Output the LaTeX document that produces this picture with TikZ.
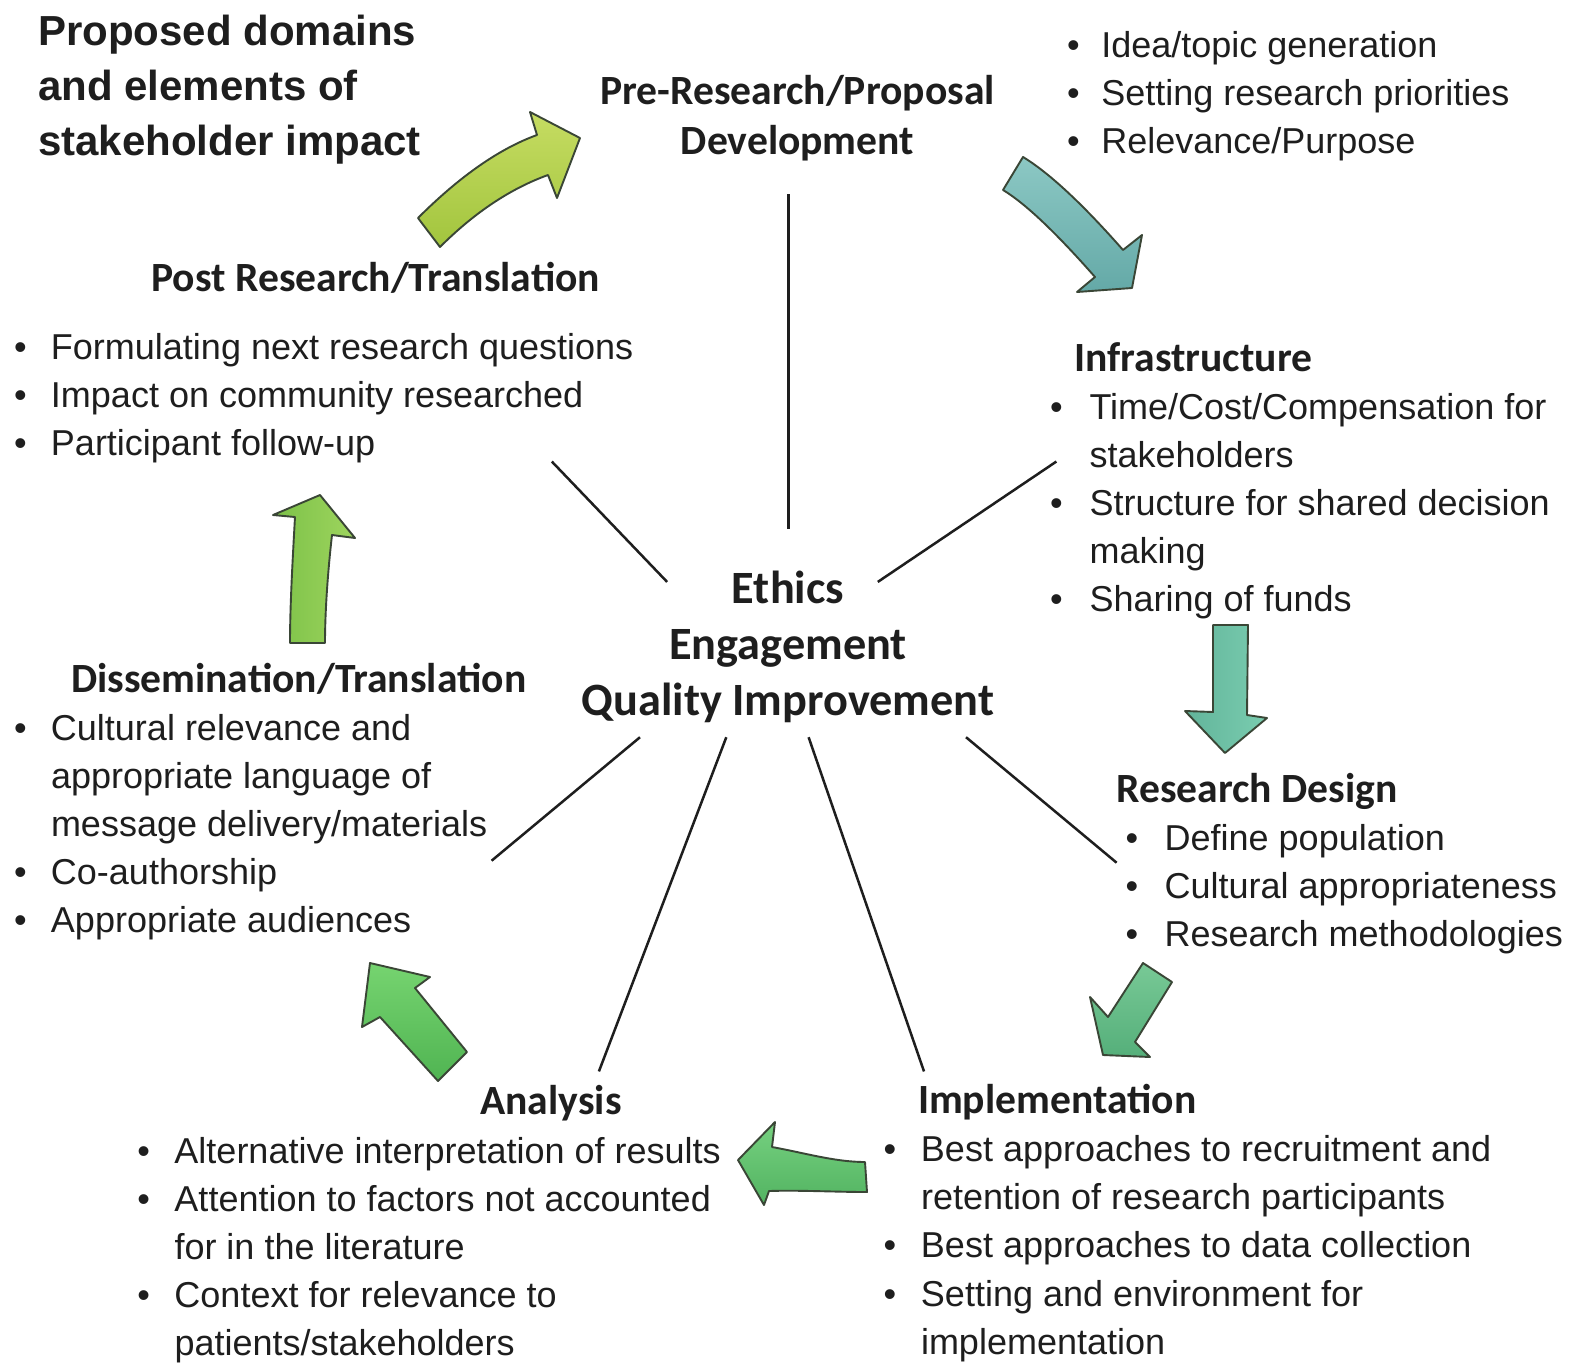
\documentclass[tikz,border=0pt]{standalone}
\usepackage{fontspec}
\setmainfont{Liberation Sans}
\newfontfamily\calfont{Carlito}
\newcommand\bodysz{\fontsize{36}{48.1}\selectfont}
\newcommand\headsz{\calfont\bfseries\fontsize{41.6}{50}\selectfont}
\newcommand\centsz{\calfont\bfseries\fontsize{46.3}{56.2}\selectfont}
\newcommand\titlesz{\bfseries\fontsize{42}{55.3}\selectfont}
\definecolor{txt}{HTML}{1E1E1E}
\definecolor{edge}{HTML}{3A4636}
\definecolor{aAt}{HTML}{C6DC62}\definecolor{aAb}{HTML}{A2C53E}
\definecolor{aBt}{HTML}{8CC8C4}\definecolor{aBb}{HTML}{64A9A7}
\definecolor{aCl}{HTML}{62B49A}\definecolor{aCr}{HTML}{7ACDB0}
\definecolor{aDt}{HTML}{78C996}\definecolor{aDb}{HTML}{55AF7A}
\definecolor{aEt}{HTML}{76D180}\definecolor{aEb}{HTML}{52B361}
\definecolor{aFt}{HTML}{76D470}\definecolor{aFb}{HTML}{50B452}
\definecolor{aGl}{HTML}{7CC148}\definecolor{aGr}{HTML}{9ED55E}
\tikzset{
  txtnode/.style={inner sep=0pt, outer sep=0pt, text=txt},
  conn/.style={line width=2.5pt, draw=txt},
  blockarrow/.style={draw=edge, line width=1.9pt, line join=round}
}
\begin{document}
\begin{tikzpicture}[x=1pt,y=-1pt]
\useasboundingbox (0,0) rectangle (1573,1363);
\fill[white] (0,0) rectangle (1573,1363);

% ---------- block arrows ----------
% A1 post -> pre
\path[blockarrow, top color=aAt, bottom color=aAb]
  (418,218) .. controls (459.7,176.3) and (499.4,148.6) .. (537,135)
  -- (530,112) -- (580,138) -- (557,198) -- (548,175)
  .. controls (510.4,188.6) and (474.4,212.6) .. (440,247) -- cycle;
% A2 pre -> infrastructure
\path[blockarrow, top color=aBt, bottom color=aBb]
  (1023,157) .. controls (1048.9,172.7) and (1082.3,203.7) .. (1123,250)
  -- (1142,235) -- (1132,288) -- (1077,292) -- (1095,277)
  .. controls (1055.7,232.3) and (1025.1,203.3) .. (1003,190) -- cycle;
% A3 infrastructure -> research design
\path[blockarrow, left color=aCl, right color=aCr]
  (1213,625) -- (1248,625) -- (1247,715) -- (1267,718) -- (1225,753)
  -- (1185,711) -- (1213,712) -- cycle;
% A4 research design -> implementation
\path[blockarrow, top color=aDt, bottom color=aDb]
  (1143,963) -- (1172,982) -- (1135,1042) -- (1150,1057) -- (1103,1055)
  -- (1090,997) -- (1108,1017) -- cycle;
% A5 implementation -> analysis
\path[blockarrow, top color=aEt, bottom color=aEb]
  (738,1160) -- (775,1122) -- (772,1147)
  .. controls (805,1153) and (835,1162) .. (865,1162) -- (867,1192)
  .. controls (835,1192) and (800,1190) .. (769,1191) -- (764,1205) -- cycle;
% A6 analysis -> dissemination
\path[blockarrow, top color=aFt, bottom color=aFb]
  (370,963) -- (430,977) -- (415,988) -- (467,1052) -- (438,1081)
  -- (380,1017) -- (362,1027) -- cycle;
% A7 dissemination -> post research
\path[blockarrow, left color=aGl, right color=aGr]
  (320,495) -- (355,538) -- (332,535)
  .. controls (328,570) and (325,610) .. (325,643) -- (290,643)
  .. controls (290,610) and (292,570) .. (295,517) -- (273,515) -- cycle;

% ---------- title ----------
\node[txtnode, anchor=base west] (title) at (38,45) {\titlesz
  \begin{tabular}[t]{@{}l@{}}Proposed domains\\ and elements of\\ stakeholder impact\end{tabular}};

% ---------- centre ----------
\node[txtnode, anchor=base] (centre) at (788,603) {\centsz
  \begin{tabular}[t]{@{}c@{}}Ethics\\ Engagement\\ Quality Improvement\end{tabular}};

% ---------- pre-research ----------
\node[txtnode, anchor=base] (pre) at (797.5,104.3) {\headsz
  \begin{tabular}[t]{@{}c@{}}Pre-Research/Proposal\\ Development\end{tabular}};
\node[txtnode, anchor=base west] (prelist) at (1067,57.5) {\bodysz
  \begin{tabular}[t]{@{}p{34.3pt}@{}l@{}}
  •& Idea/topic generation\\
  •& Setting research priorities\\
  •& Relevance/Purpose
  \end{tabular}};

% ---------- infrastructure ----------
\node[txtnode, anchor=base west] (infra) at (1074.5,371) {\headsz Infrastructure};
\node[txtnode, anchor=base west] (infralist) at (1050,419.3) {\bodysz
  \begin{tabular}[t]{@{}p{39.5pt}@{}l@{}}
  •& Time/Cost/Compensation for\\
   & stakeholders\\
  •& Structure for shared decision\\
   & making\\
  •& Sharing of funds
  \end{tabular}};

% ---------- research design ----------
\node[txtnode, anchor=base west] (rd) at (1116.5,802.4) {\headsz Research Design};
\node[txtnode, anchor=base west] (rdlist) at (1125.5,850.7) {\bodysz
  \begin{tabular}[t]{@{}p{39.2pt}@{}l@{}}
  •& Define population\\
  •& Cultural appropriateness\\
  •& Research methodologies
  \end{tabular}};

% ---------- implementation ----------
\node[txtnode, anchor=base west] (impl) at (918,1113.5) {\headsz Implementation};
\node[txtnode, anchor=base west] (impllist) at (883.6,1161.7) {\bodysz
  \begin{tabular}[t]{@{}p{37.4pt}@{}l@{}}
  •& Best approaches to recruitment and\\
   & retention of research participants\\
  •& Best approaches to data collection\\
  •& Setting and environment for\\
   & implementation
  \end{tabular}};

% ---------- analysis ----------
\node[txtnode, anchor=base west] (ana) at (480.4,1114.4) {\headsz Analysis};
\node[txtnode, anchor=base west] (analist) at (137.4,1163.5) {\bodysz
  \begin{tabular}[t]{@{}p{37.1pt}@{}l@{}}
  •& Alternative interpretation of results\\
  •& Attention to factors not accounted\\
   & for in the literature\\
  •& Context for relevance to\\
   & patients/stakeholders
  \end{tabular}};

% ---------- dissemination ----------
\node[txtnode, anchor=base west] (diss) at (71,692) {\headsz Dissemination/Translation};
\node[txtnode, anchor=base west] (disslist) at (14,740.2) {\bodysz
  \begin{tabular}[t]{@{}p{37pt}@{}l@{}}
  •& Cultural relevance and\\
   & appropriate language of\\
   & message delivery/materials\\
  •& Co-authorship\\
  •& Appropriate audiences
  \end{tabular}};

% ---------- post research ----------
\node[txtnode, anchor=base west] (post) at (151.5,291) {\headsz Post Research/Translation};
\node[txtnode, anchor=base west] (postlist) at (14,359) {\bodysz
  \begin{tabular}[t]{@{}p{37pt}@{}l@{}}
  •& Formulating next research questions\\
  •& Impact on community researched\\
  •& Participant follow-up
  \end{tabular}};

% ---------- connectors ----------
\coordinate (c1a) at (788.5,528.6);  \coordinate (c1b) at (788.5,193.6);
\coordinate (c2a) at (877.8,581.9);  \coordinate (c2b) at (1056.4,461.5);
\coordinate (c3a) at (966,737.2);    \coordinate (c3b) at (1116.6,862.7);
\coordinate (c4a) at (808.6,737.2);  \coordinate (c4b) at (924,1071.4);
\coordinate (c5a) at (726.3,737.2);  \coordinate (c5b) at (598.9,1071.4);
\coordinate (c6a) at (640,737.2);    \coordinate (c6b) at (491.6,860.7);
\coordinate (c7a) at (667.1,581.9);  \coordinate (c7b) at (551.8,461.5);
\draw[conn] (c1a) -- (c1b);
\draw[conn] (c2a) -- (c2b);
\draw[conn] (c3a) -- (c3b);
\draw[conn] (c4a) -- (c4b);
\draw[conn] (c5a) -- (c5b);
\draw[conn] (c6a) -- (c6b);
\draw[conn] (c7a) -- (c7b);
\end{tikzpicture}
\end{document}
